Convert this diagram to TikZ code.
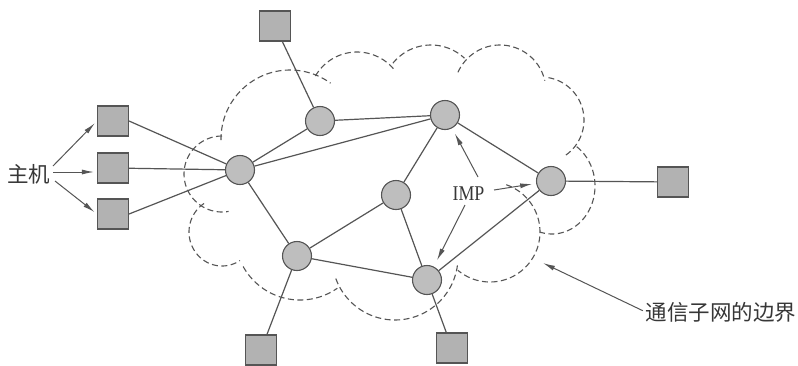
\documentclass[tikz,border=0pt]{standalone}
\usepackage{fontspec}
\newfontfamily\cjk{Noto Sans CJK SC}
\newfontfamily\impfont[FakeStretch=0.85]{Liberation Serif}
\usetikzlibrary{arrows.meta}
\definecolor{ink}{RGB}{85,85,85}
\definecolor{textgray}{RGB}{55,55,55}
\definecolor{impfill}{RGB}{190,190,190}
\definecolor{hostfill}{RGB}{178,178,178}
% one bump of the dashed subnet boundary: centre, radii, start and end angle
\newcommand\cloudarc[6]{\draw[boundary] plot[samples=60, domain=#5:#6, variable=\t]
  ({#1+#3*cos(\t)},{#2+#4*sin(\t)});}
\begin{document}
\begin{tikzpicture}[x=1pt,y=-1pt,
  imp/.style={circle,draw=ink,line width=1.1pt,fill=impfill,minimum size=29pt,inner sep=0pt},
  host/.style={rectangle,draw=ink,line width=1.1pt,fill=hostfill,minimum width=31pt,minimum height=30pt,inner sep=0pt},
  link/.style={draw=ink,line width=1.2pt},
  pointer/.style={draw=ink,line width=1pt,-{Latex[length=12pt,width=5pt]}},
  boundary/.style={draw=ink,line width=1.1pt,dash pattern=on 6pt off 3.5pt},
  lbl/.style={inner sep=0pt,text=textgray}]
\useasboundingbox[fill=white] (0,0) rectangle (798,365);

% dashed boundary of the communication subnet
\cloudarc{290}{139}{69}{69}{179}{306}
\cloudarc{357}{100}{48}{48}{210}{322}
\cloudarc{431}{94}{49}{49}{219}{313}
\cloudarc{500}{91}{46}{46}{204}{347}
\cloudarc{541}{120}{43}{43}{280}{416}
\cloudarc{552}{186}{43}{48}{305}{466}
\cloudarc{490}{232}{50}{50}{-71}{130}
\cloudarc{395}{257}{63}{63}{160}{5}
\cloudarc{300}{235}{65}{65}{151}{55}
\cloudarc{222}{232}{33}{34}{237}{57}
\cloudarc{222}{174}{38}{38}{270}{80}

% IMPs
\node[imp] (A) at (240,170) {};
\node[imp] (B) at (320,121) {};
\node[imp] (C) at (445,115) {};
\node[imp] (D) at (551,181) {};
\node[imp] (E) at (396,195) {};
\node[imp] (F) at (297,256) {};
\node[imp] (G) at (427,280) {};

% hosts
\node[host] (h1) at (113,121) {};
\node[host] (h2) at (113,168) {};
\node[host] (h3) at (113,214) {};
\node[host] (ht) at (275,26) {};
\node[host] (hr) at (673,182) {};
\node[host] (hbl) at (261,350) {};
\node[host] (hbr) at (452,348) {};

% subnet links
\draw[link] (A) -- (B);
\draw[link] (A) -- (C);
\draw[link] (A) -- (F);
\draw[link] (B) -- (C);
\draw[link] (C) -- (E);
\draw[link] (C) -- (D);
\draw[link] (E) -- (F);
\draw[link] (E) -- (G);
\draw[link] (F) -- (G);
\draw[link] (D) -- (G);

% host links
\draw[link] (A) -- (h1.east);
\draw[link] (A) -- (h2);
\draw[link] (A) -- (h3.east);
\draw[link] (B) -- (ht);
\draw[link] (D) -- (hr);
\draw[link] (F) -- (hbl);
\draw[link] (G) -- (hbr);

% labels
\node[lbl,font=\cjk\fontsize{21.5}{24}\selectfont] (host) at (29,174) {主机};
\node[lbl,font=\impfont\fontsize{21}{24}\selectfont] (implbl) at (468.5,194) {IMP};
\node[lbl,font=\cjk\fontsize{21.5}{24}\selectfont] (bdlbl) at (721,312) {通信子网的边界};

% pointers from the labels
\coordinate (z1) at (53,166);
\coordinate (z2) at (53,172);
\coordinate (z3) at (55,181);
\draw[pointer,shorten >=3pt] (z1) -- (h1.west);
\draw[pointer,shorten >=3pt] (z2) -- (z2 -| h2.west);
\draw[pointer,shorten >=3pt] (z3) -- (h3.west);

\coordinate (tC) at (478,177);
\coordinate (tD) at (494,190);
\coordinate (tG) at (465,205);
\draw[pointer,shorten >=6pt] (tC) -- (C);
\draw[pointer,shorten >=4pt] (tD) -- (D);
\draw[pointer,shorten >=7pt] (tG) -- (G);

\coordinate (edge) at (543,263);
\draw[pointer,shorten <=3pt] (bdlbl.west) -- (edge);
\end{tikzpicture}
\end{document}
